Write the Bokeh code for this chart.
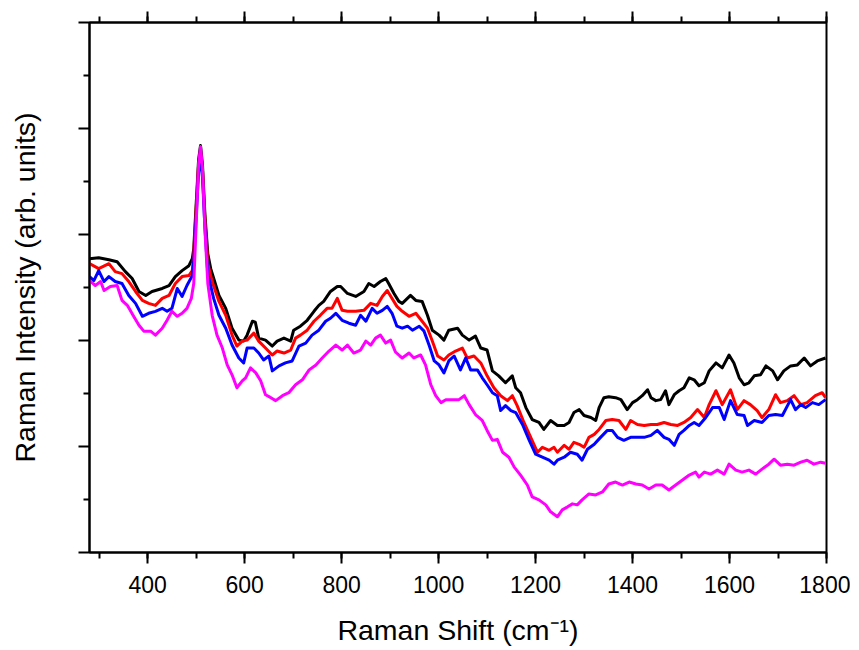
from bokeh.plotting import figure
from bokeh.models import Range1d, LinearAxis, FixedTicker, SingleIntervalTicker, CustomJSTickFormatter
from bokeh.embed import file_html
from bokeh.resources import INLINE

# Raman shift (cm-1) and intensity (arb. units) for the four spectra
x_black = [280, 299, 320, 337, 354, 368, 382, 396, 409, 430, 444, 457, 471, 485, 492, 495, 500, 505, 509, 513, 518, 524, 530, 547, 561, 574, 588, 598, 605, 616, 622, 629, 643, 657, 667, 681, 695, 701, 715, 729, 743, 753, 763, 777, 791, 798, 812, 829, 846, 856, 867, 880, 891, 897, 908, 918, 925, 942, 953, 966, 977, 987, 1001, 1011, 1021, 1039, 1049, 1063, 1076, 1087, 1100, 1111, 1124, 1138, 1152, 1159, 1169, 1180, 1193, 1207, 1217, 1231, 1245, 1259, 1269, 1279, 1290, 1300, 1314, 1324, 1331, 1341, 1351, 1365, 1376, 1389, 1400, 1410, 1420, 1431, 1438, 1448, 1458, 1468, 1475, 1486, 1496, 1506, 1517, 1527, 1537, 1548, 1558, 1572, 1585, 1599, 1609, 1620, 1630, 1640, 1651, 1664, 1675, 1689, 1699, 1712, 1726, 1740, 1754, 1767, 1781, 1798]
y_black = [296, 297, 295, 293, 283, 276, 263, 259, 263, 266, 269, 278, 284, 289, 296, 306, 351, 396, 410, 391, 341, 301, 286, 259, 246, 226, 214, 213, 219, 233, 232, 216, 214, 208, 213, 216, 213, 224, 228, 234, 243, 249, 253, 263, 268, 268, 261, 258, 263, 271, 268, 273, 276, 271, 261, 253, 251, 259, 254, 253, 239, 224, 219, 214, 224, 226, 219, 214, 218, 206, 204, 183, 178, 171, 178, 166, 161, 146, 134, 131, 124, 133, 128, 128, 131, 141, 144, 138, 136, 133, 146, 156, 157, 156, 154, 144, 151, 154, 158, 164, 156, 153, 154, 163, 149, 159, 163, 166, 176, 174, 168, 171, 183, 191, 186, 199, 191, 176, 169, 171, 178, 179, 188, 183, 174, 183, 188, 189, 196, 188, 193, 196]

x_red = [280, 299, 320, 333, 347, 361, 375, 389, 402, 416, 430, 444, 457, 471, 485, 492, 495, 500, 505, 509, 513, 518, 524, 533, 547, 561, 574, 584, 595, 605, 619, 629, 643, 657, 667, 681, 695, 705, 715, 729, 743, 756, 770, 780, 791, 801, 812, 829, 846, 860, 873, 884, 894, 904, 914, 925, 939, 953, 966, 977, 987, 998, 1011, 1021, 1035, 1049, 1059, 1073, 1087, 1100, 1114, 1128, 1142, 1152, 1162, 1176, 1190, 1204, 1214, 1228, 1238, 1245, 1259, 1269, 1279, 1290, 1300, 1310, 1321, 1331, 1345, 1358, 1372, 1386, 1396, 1410, 1424, 1438, 1451, 1465, 1479, 1493, 1506, 1520, 1534, 1548, 1558, 1572, 1585, 1602, 1616, 1630, 1643, 1657, 1667, 1681, 1695, 1705, 1719, 1733, 1747, 1760, 1777, 1791, 1798]
y_red = [291, 286, 291, 283, 281, 273, 263, 254, 251, 249, 256, 259, 271, 278, 279, 284, 301, 346, 391, 404, 386, 336, 291, 273, 253, 239, 219, 208, 213, 214, 221, 213, 206, 199, 203, 201, 204, 216, 219, 224, 233, 239, 246, 246, 256, 244, 243, 243, 244, 251, 249, 258, 264, 256, 248, 243, 238, 241, 233, 226, 213, 198, 194, 199, 203, 206, 196, 198, 191, 178, 166, 158, 153, 158, 148, 131, 116, 101, 106, 103, 106, 101, 108, 104, 111, 109, 106, 116, 119, 124, 133, 134, 133, 124, 133, 129, 128, 129, 129, 131, 129, 128, 131, 136, 144, 136, 149, 163, 149, 164, 144, 153, 149, 143, 136, 144, 159, 151, 153, 158, 149, 151, 158, 161, 156]

x_blue = [280, 289, 299, 310, 320, 333, 347, 361, 375, 389, 402, 416, 430, 440, 450, 461, 471, 481, 492, 495, 500, 505, 509, 513, 518, 524, 536, 547, 561, 574, 588, 598, 605, 619, 629, 639, 650, 657, 671, 684, 698, 712, 726, 739, 753, 767, 777, 788, 801, 815, 829, 839, 850, 863, 873, 884, 894, 904, 914, 925, 936, 946, 960, 970, 981, 991, 1001, 1011, 1021, 1032, 1045, 1056, 1066, 1080, 1090, 1100, 1111, 1121, 1128, 1138, 1149, 1159, 1173, 1187, 1200, 1214, 1228, 1238, 1245, 1259, 1272, 1286, 1296, 1307, 1321, 1334, 1348, 1358, 1369, 1382, 1396, 1410, 1424, 1438, 1451, 1465, 1475, 1486, 1496, 1506, 1517, 1527, 1537, 1551, 1565, 1579, 1589, 1602, 1616, 1630, 1637, 1651, 1667, 1681, 1695, 1709, 1726, 1736, 1747, 1757, 1771, 1784, 1798]
y_blue = [278, 274, 284, 273, 278, 273, 271, 259, 251, 238, 241, 243, 246, 243, 246, 266, 258, 269, 279, 294, 338, 384, 396, 378, 328, 281, 256, 239, 226, 209, 196, 191, 206, 206, 201, 194, 198, 183, 188, 191, 193, 208, 211, 219, 224, 233, 236, 241, 234, 231, 229, 239, 233, 246, 241, 244, 248, 241, 228, 226, 228, 224, 228, 223, 208, 193, 189, 181, 193, 198, 184, 196, 184, 184, 176, 169, 161, 158, 143, 148, 143, 141, 129, 113, 99, 96, 93, 89, 93, 96, 101, 99, 93, 104, 109, 116, 123, 123, 116, 113, 116, 116, 116, 118, 123, 116, 114, 108, 119, 123, 128, 131, 128, 136, 146, 146, 134, 153, 139, 138, 128, 133, 131, 138, 139, 138, 154, 144, 149, 146, 151, 149, 154]

x_magenta = [280, 292, 303, 310, 323, 337, 347, 358, 371, 382, 392, 406, 416, 430, 440, 450, 461, 471, 481, 490, 495, 500, 505, 509, 513, 518, 524, 533, 543, 554, 564, 574, 584, 595, 602, 612, 623, 633, 643, 654, 664, 678, 691, 705, 719, 733, 747, 760, 774, 788, 801, 812, 825, 839, 850, 860, 870, 880, 891, 901, 911, 920, 925, 939, 949, 963, 973, 984, 994, 1005, 1015, 1029, 1042, 1053, 1063, 1076, 1090, 1100, 1111, 1121, 1132, 1145, 1156, 1169, 1183, 1193, 1207, 1221, 1231, 1245, 1255, 1266, 1276, 1286, 1296, 1310, 1324, 1338, 1351, 1365, 1379, 1393, 1407, 1420, 1434, 1448, 1461, 1475, 1489, 1503, 1517, 1530, 1537, 1548, 1561, 1575, 1589, 1599, 1613, 1626, 1640, 1654, 1667, 1681, 1692, 1705, 1719, 1733, 1747, 1760, 1774, 1788, 1798]
y_magenta = [274, 269, 273, 264, 268, 269, 254, 249, 238, 229, 223, 223, 219, 226, 234, 243, 238, 241, 246, 256, 271, 331, 391, 409, 386, 326, 271, 239, 219, 206, 189, 179, 166, 173, 176, 186, 181, 173, 159, 156, 153, 158, 161, 169, 174, 184, 189, 196, 203, 209, 204, 209, 201, 204, 213, 209, 216, 219, 211, 214, 202, 198, 196, 201, 196, 199, 189, 169, 158, 151, 154, 154, 154, 158, 149, 139, 133, 123, 113, 114, 101, 96, 86, 78, 68, 56, 53, 48, 41, 36, 43, 46, 49, 48, 53, 59, 58, 61, 69, 71, 68, 71, 69, 68, 64, 68, 68, 63, 68, 73, 78, 81, 76, 81, 79, 83, 79, 89, 83, 81, 83, 79, 84, 89, 94, 88, 89, 88, 91, 93, 89, 91, 90]

series = [
    (x_black, y_black, "black"),
    (x_red, y_red, "red"),
    (x_blue, y_blue, "blue"),
    (x_magenta, y_magenta, "magenta"),
]

y_major = [0, 106.8, 213.6, 320.4, 427.2, 534]
y_minor = [53.4, 160.2, 267, 373.8, 480.6]

FONT = "Liberation Sans"
W, H = 850, 648

p = figure(width=W, height=H, output_backend="svg", toolbar_location=None,
           x_range=Range1d(280, 1800), y_range=Range1d(0, 534),
           min_border_left=89, min_border_right=W - 826, min_border_top=22, min_border_bottom=H - 556,
           x_axis_label="Raman Shift (cm⁻¹)", y_axis_label="Raman Intensity (arb. units)")
p.grid.visible = False
p.outline_line_color = "black"
p.outline_line_width = 2
p.background_fill_color = "white"
p.border_fill_color = "white"

for xs, ys, c in series:
    p.line(xs, ys, line_color=c, line_width=3, line_join="round")

blank = CustomJSTickFormatter(code="return ''")

xa = p.xaxis[0]
xa.ticker = SingleIntervalTicker(interval=200, num_minor_ticks=2)
ya = p.yaxis[0]
ya.ticker = FixedTicker(ticks=y_major, minor_ticks=y_minor)

for ax in (xa, ya):
    ax.axis_line_width = 2
    ax.major_tick_line_width = 2
    ax.minor_tick_line_width = 2
    ax.major_tick_out = 11
    ax.major_tick_in = 0
    ax.minor_tick_out = 6
    ax.minor_tick_in = 0
    ax.axis_label_text_font = FONT
    ax.axis_label_text_font_style = "normal"
    ax.axis_label_text_font_size = "28.5px"
    ax.major_label_text_font = FONT
    ax.major_label_text_font_size = "23px"
    ax.axis_label_text_color = "black"
    ax.major_label_text_color = "black"

xa.major_label_standoff = 12
xa.axis_label_standoff = 18
ya.formatter = blank
ya.major_label_standoff = 0
ya.axis_label_standoff = 38

top = LinearAxis(ticker=SingleIntervalTicker(interval=200, num_minor_ticks=2), formatter=blank)
top.axis_line_width = 2
top.major_tick_line_width = 2
top.minor_tick_line_width = 2
top.major_tick_out = 11
top.major_tick_in = 0
top.minor_tick_out = 6
top.minor_tick_in = 0
top.major_label_standoff = 0
p.add_layout(top, "above")

open("out.html", "w").write(file_html(p, INLINE))
